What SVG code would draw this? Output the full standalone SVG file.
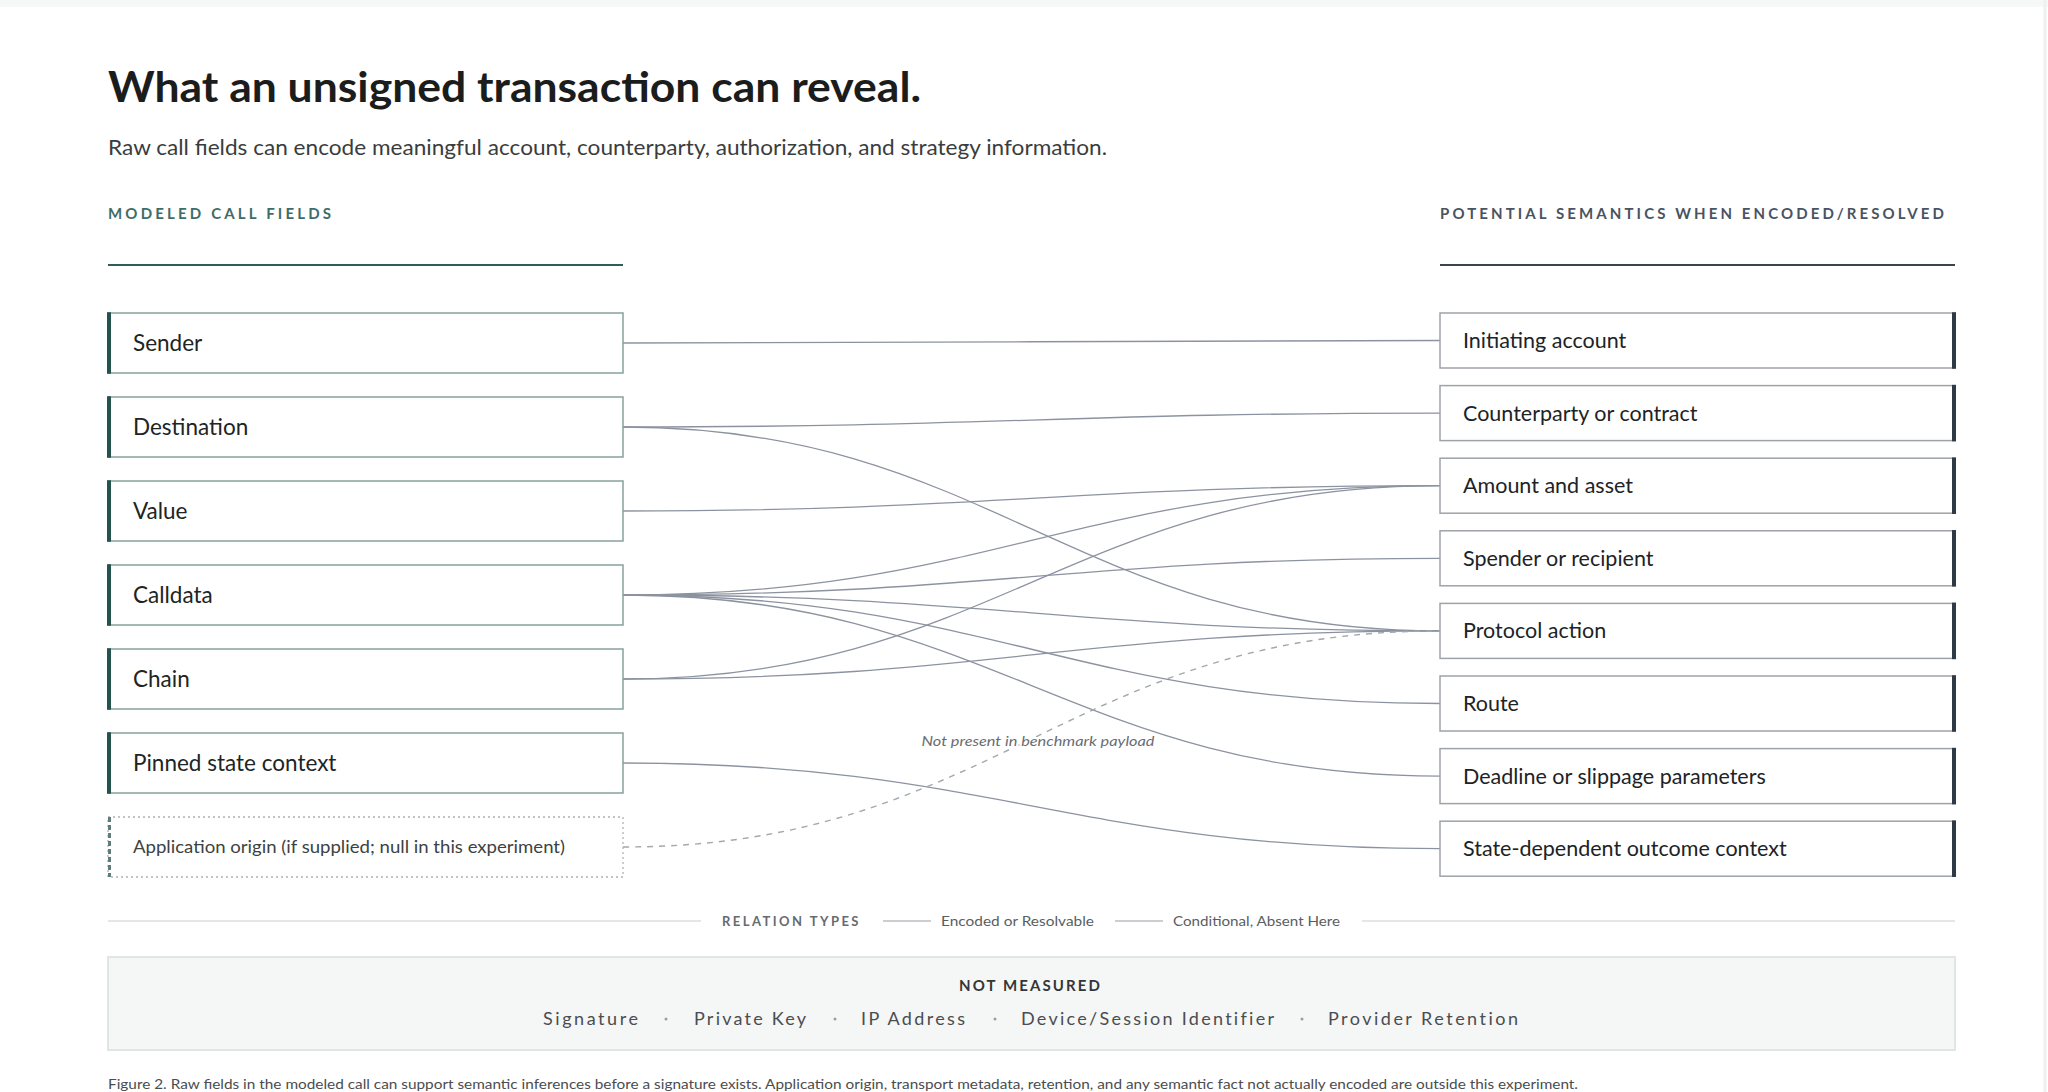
<svg xmlns="http://www.w3.org/2000/svg" width="2048" height="1092" viewBox="0 0 2048 1092">
<style>
text{font-family:Lato,"Noto Sans","Liberation Sans",sans-serif}
.title{font-size:42px;font-weight:700;fill:#1b1c1c}
.sub{font-size:22px;fill:#3a3d3d}
.hl{font-size:15px;font-weight:700;fill:#3e6d68;letter-spacing:3px}
.hr{font-size:15px;font-weight:700;fill:#4a5361;letter-spacing:3px}
.lbox{fill:#ffffff;stroke:#86a19e;stroke-width:1.5}
.lbar{fill:#24524d}
.ltxt{font-size:22.5px;fill:#202424}
.obox{fill:#ffffff;stroke:#aab4b3;stroke-width:1.3;stroke-dasharray:2 3}
.obar{stroke:#5f7d7a;stroke-width:3;stroke-dasharray:5 3}
.otxt{font-size:18px;fill:#3d4242}
.rbox{fill:#ffffff;stroke:#9ea3a8;stroke-width:1.5}
.rbar{fill:#2f3a47}
.rtxt{font-size:21.5px;fill:#202326}
.con{fill:none;stroke:#8c93a0;stroke-width:1.3}
.dash{fill:none;stroke:#a3a8ae;stroke-width:1.4;stroke-dasharray:6 6}
.note{font-size:14px;font-style:italic;fill:#6a6d70;stroke:#ffffff;stroke-width:4;paint-order:stroke;stroke-linejoin:round}
.lg{stroke:#e4e7e7;stroke-width:2}
.lgs{stroke:#b9bdc2;stroke-width:1.5}
.lgt{font-size:13px;fill:#5a5e62}
.lgh{font-size:13px;font-weight:700;fill:#676b6f;letter-spacing:2.5px}
.nm{font-size:15px;font-weight:700;fill:#333638;letter-spacing:3px}
.it{font-size:18px;fill:#4a4d50;letter-spacing:1px}
.dot{fill:#9a9ea2}
.cap{font-size:14px;fill:#4a4d50}
</style>
<rect x="0" y="0" width="2048" height="1092" fill="#ffffff"/>
<rect x="0" y="0" width="2048" height="7" fill="#f6f7f7"/>
<line x1="2045" y1="0" x2="2045" y2="1092" stroke="#eef0f0" stroke-width="3"/>

<g id="header">
<text class="title" x="108" y="102" textLength="813" lengthAdjust="spacingAndGlyphs">What an unsigned transaction can reveal.</text>
<text class="sub" x="108" y="155" textLength="999" lengthAdjust="spacingAndGlyphs">Raw call fields can encode meaningful account, counterparty, authorization, and strategy information.</text>
<text class="hl" x="108" y="219" textLength="226" lengthAdjust="spacing">MODELED CALL FIELDS</text>
<line x1="108" y1="265" x2="623" y2="265" stroke="#2f5e5a" stroke-width="2"/>
<text class="hr" x="1440" y="219" textLength="507" lengthAdjust="spacing">POTENTIAL SEMANTICS WHEN ENCODED/RESOLVED</text>
<line x1="1440" y1="265" x2="1955" y2="265" stroke="#3a4450" stroke-width="2"/>
</g>

<g id="connectors">
<path class="con" d="M623,343 C991,343 1072,340.5 1440,340.5"/>
<path class="con" d="M623,427 C991,427 1072,413.1 1440,413.1"/>
<path class="con" d="M623,427 C991,427 1072,630.9 1440,630.9"/>
<path class="con" d="M623,511 C991,511 1072,485.7 1440,485.7"/>
<path class="con" d="M623,595 C991,595 1072,485.7 1440,485.7"/>
<path class="con" d="M623,595 C991,595 1072,558.3 1440,558.3"/>
<path class="con" d="M623,595 C991,595 1072,630.9 1440,630.9"/>
<path class="con" d="M623,595 C991,595 1072,703.5 1440,703.5"/>
<path class="con" d="M623,595 C991,595 1072,776.1 1440,776.1"/>
<path class="con" d="M623,679 C991,679 1072,485.7 1440,485.7"/>
<path class="con" d="M623,679 C991,679 1072,630.9 1440,630.9"/>
<path class="con" d="M623,763 C991,763 1072,848.7 1440,848.7"/>
<path class="dash" d="M623,847 C991,847 1072,630.9 1440,630.9"/>
<text class="note" x="1038" y="746" text-anchor="middle" textLength="233" lengthAdjust="spacingAndGlyphs">Not present in benchmark payload</text>
</g>

<g id="f-sender"><rect class="lbox" x="108" y="313" width="515" height="60"/><rect class="lbar" x="107" y="312.25" width="4" height="61.5"/><text class="ltxt" x="133" y="351">Sender</text></g>
<g id="f-destination"><rect class="lbox" x="108" y="397" width="515" height="60"/><rect class="lbar" x="107" y="396.25" width="4" height="61.5"/><text class="ltxt" x="133" y="435">Destination</text></g>
<g id="f-value"><rect class="lbox" x="108" y="481" width="515" height="60"/><rect class="lbar" x="107" y="480.25" width="4" height="61.5"/><text class="ltxt" x="133" y="519">Value</text></g>
<g id="f-calldata"><rect class="lbox" x="108" y="565" width="515" height="60"/><rect class="lbar" x="107" y="564.25" width="4" height="61.5"/><text class="ltxt" x="133" y="603">Calldata</text></g>
<g id="f-chain"><rect class="lbox" x="108" y="649" width="515" height="60"/><rect class="lbar" x="107" y="648.25" width="4" height="61.5"/><text class="ltxt" x="133" y="687">Chain</text></g>
<g id="f-pinned"><rect class="lbox" x="108" y="733" width="515" height="60"/><rect class="lbar" x="107" y="732.25" width="4" height="61.5"/><text class="ltxt" x="133" y="771">Pinned state context</text></g>
<g id="f-origin"><rect class="obox" x="108" y="817" width="515" height="60"/><line class="obar" x1="109.5" y1="817" x2="109.5" y2="877"/><text class="otxt" x="133" y="853" textLength="432" lengthAdjust="spacingAndGlyphs">Application origin (if supplied; null in this experiment)</text></g>

<g id="s-initiating"><rect class="rbox" x="1440" y="313" width="515" height="55"/><rect class="rbar" x="1952" y="312.25" width="4" height="56.5"/><text class="rtxt" x="1463" y="348">Initiating account</text></g>
<g id="s-counterparty"><rect class="rbox" x="1440" y="385.6" width="515" height="55"/><rect class="rbar" x="1952" y="384.85" width="4" height="56.5"/><text class="rtxt" x="1463" y="420.6">Counterparty or contract</text></g>
<g id="s-amount"><rect class="rbox" x="1440" y="458.2" width="515" height="55"/><rect class="rbar" x="1952" y="457.45" width="4" height="56.5"/><text class="rtxt" x="1463" y="493.2">Amount and asset</text></g>
<g id="s-spender"><rect class="rbox" x="1440" y="530.8" width="515" height="55"/><rect class="rbar" x="1952" y="530.05" width="4" height="56.5"/><text class="rtxt" x="1463" y="565.8">Spender or recipient</text></g>
<g id="s-protocol"><rect class="rbox" x="1440" y="603.4" width="515" height="55"/><rect class="rbar" x="1952" y="602.65" width="4" height="56.5"/><text class="rtxt" x="1463" y="638.4">Protocol action</text></g>
<g id="s-route"><rect class="rbox" x="1440" y="676" width="515" height="55"/><rect class="rbar" x="1952" y="675.25" width="4" height="56.5"/><text class="rtxt" x="1463" y="711">Route</text></g>
<g id="s-deadline"><rect class="rbox" x="1440" y="748.6" width="515" height="55"/><rect class="rbar" x="1952" y="747.85" width="4" height="56.5"/><text class="rtxt" x="1463" y="783.6">Deadline or slippage parameters</text></g>
<g id="s-state"><rect class="rbox" x="1440" y="821.2" width="515" height="55"/><rect class="rbar" x="1952" y="820.45" width="4" height="56.5"/><text class="rtxt" x="1463" y="856.2">State-dependent outcome context</text></g>

<g id="legend">
<line class="lg" x1="108" y1="921" x2="701" y2="921"/>
<text class="lgh" x="722" y="926" textLength="139" lengthAdjust="spacing">RELATION TYPES</text>
<line class="lgs" x1="883" y1="921" x2="931" y2="921"/>
<text class="lgt" x="941" y="926" textLength="153" lengthAdjust="spacingAndGlyphs">Encoded or Resolvable</text>
<line class="lgs" x1="1115" y1="921" x2="1163" y2="921"/>
<text class="lgt" x="1173" y="926" textLength="167" lengthAdjust="spacingAndGlyphs">Conditional, Absent Here</text>
<line class="lg" x1="1362" y1="921" x2="1955" y2="921"/>
</g>

<g id="not-measured">
<rect x="108" y="957" width="1847" height="93" fill="#f5f6f6" stroke="#e1e5e4" stroke-width="2"/>
<text class="nm" x="1031" y="991" text-anchor="middle" textLength="144" lengthAdjust="spacing">NOT MEASURED</text>
<text class="it" x="543" y="1025" textLength="96" lengthAdjust="spacing">Signature</text>
<circle class="dot" cx="666" cy="1019" r="1.5"/>
<text class="it" x="694" y="1025" textLength="113" lengthAdjust="spacing">Private Key</text>
<circle class="dot" cx="835" cy="1019" r="1.5"/>
<text class="it" x="861" y="1025" textLength="105" lengthAdjust="spacing">IP Address</text>
<circle class="dot" cx="995" cy="1019" r="1.5"/>
<text class="it" x="1021" y="1025" textLength="254" lengthAdjust="spacing">Device/Session Identifier</text>
<circle class="dot" cx="1302" cy="1019" r="1.5"/>
<text class="it" x="1328" y="1025" textLength="191" lengthAdjust="spacing">Provider Retention</text>
</g>

<text class="cap" x="108" y="1089" textLength="1470" lengthAdjust="spacingAndGlyphs">Figure 2. Raw fields in the modeled call can support semantic inferences before a signature exists. Application origin, transport metadata, retention, and any semantic fact not actually encoded are outside this experiment.</text>
</svg>
